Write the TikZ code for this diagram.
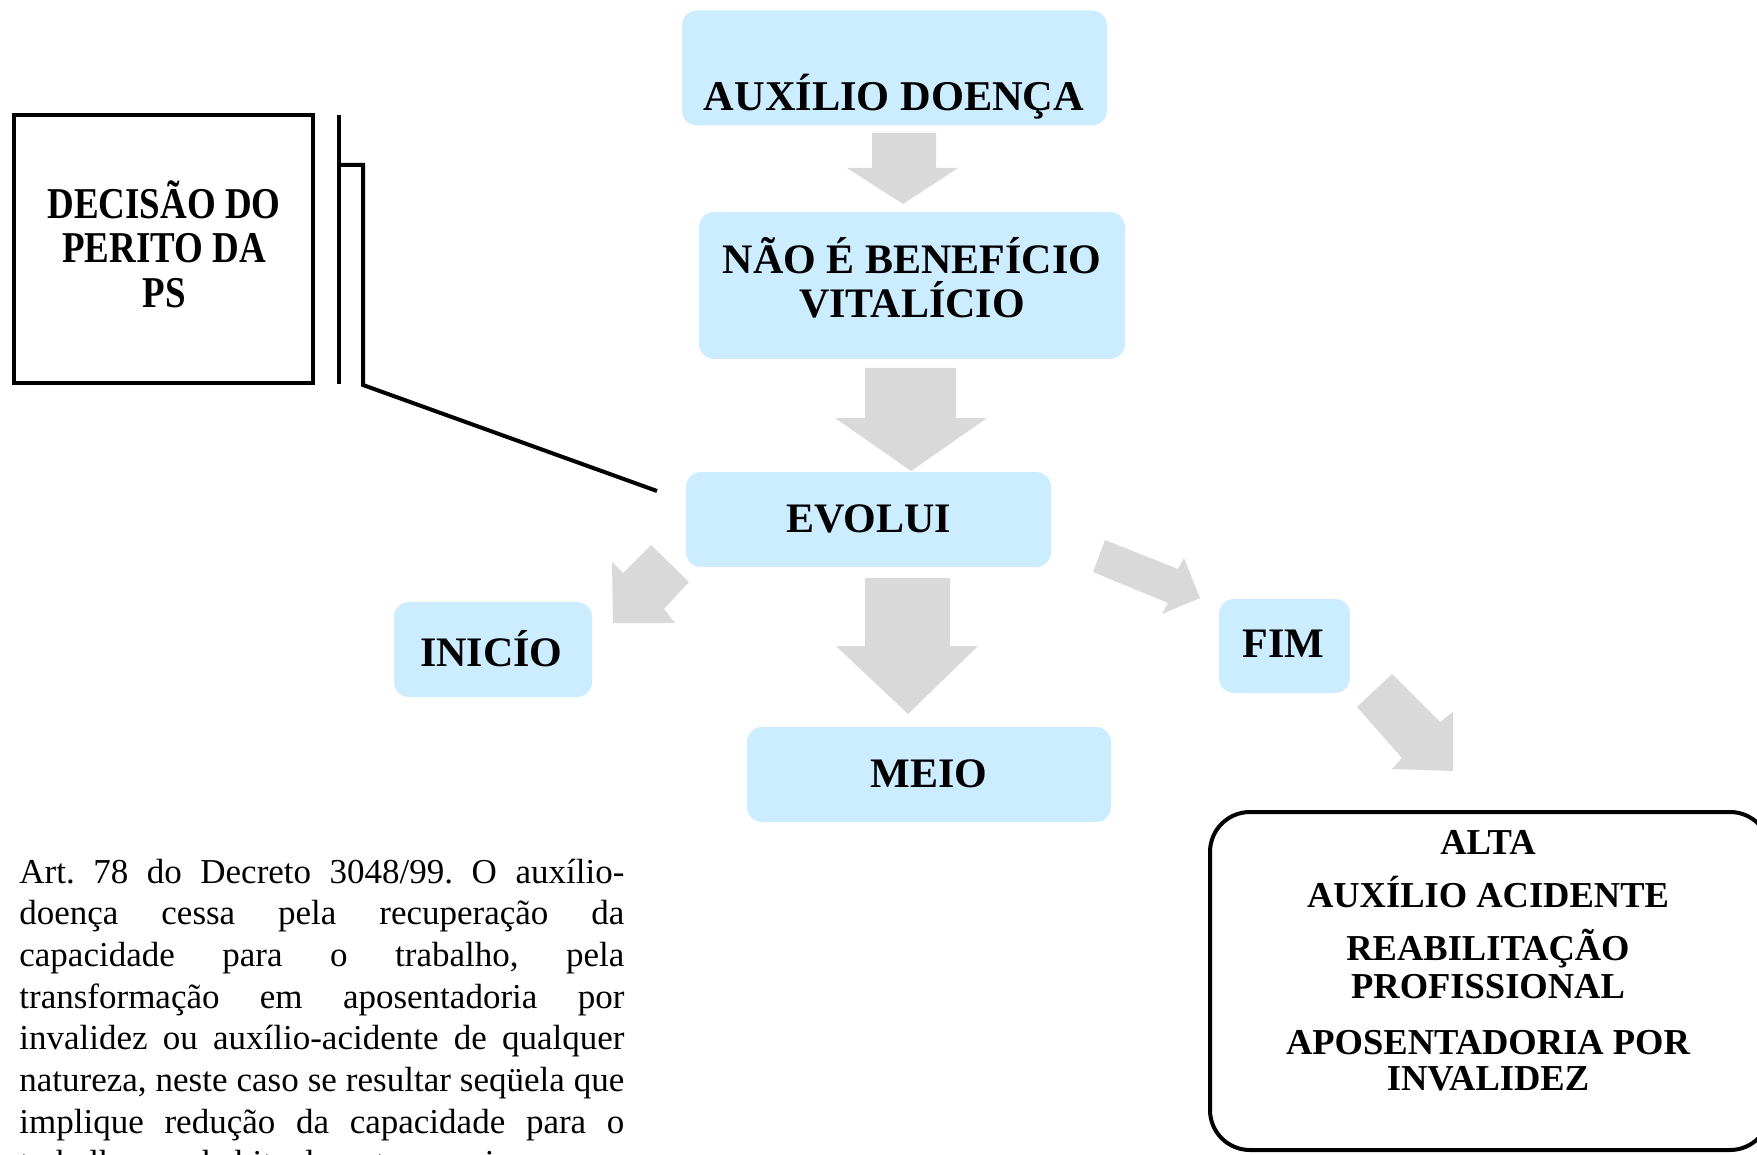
\documentclass[tikz,border=0pt]{standalone}
\usepackage{fontspec}
\setmainfont{Liberation Serif}
\newfontfamily\condserif[FakeStretch=0.84]{Liberation Serif}
\definecolor{boxblue}{HTML}{CCECFF}
\definecolor{arrowgrey}{HTML}{D9D9D9}
\tikzset{
  bluebox/.style={fill=boxblue, draw=none, rounded corners=7.5pt, inner sep=0pt},
  lbl/.style={anchor=base, inner sep=0pt, font=\bfseries\fontsize{21}{25}\selectfont},
  reslbl/.style={anchor=base, inner sep=0pt, font=\bfseries\fontsize{18.25}{22}\selectfont},
  declbl/.style={anchor=base, inner sep=0pt, font=\condserif\bfseries\fontsize{22}{26}\selectfont},
  paraline/.style={anchor=base west, inner sep=0pt, font=\fontsize{17.5}{21}\selectfont\frenchspacing},
  blockarrow/.style={fill=arrowgrey, draw=none},
  blackline/.style={line width=2pt, draw=black}
}
\begin{document}
\frenchspacing
\begin{tikzpicture}[x=0.5pt,y=-0.5pt]
\useasboundingbox (0,0) rectangle (1757,1155);

% blue boxes
\node[bluebox, minimum width=212.5pt, minimum height=57.5pt] (aux) at (894.5,68) {};
\node[bluebox, minimum width=213pt, minimum height=73.5pt] (nao) at (912,285.5) {};
\node[bluebox, minimum width=182.5pt, minimum height=47.5pt] (evo) at (868.5,519.5) {};
\node[bluebox, minimum width=99pt, minimum height=47.5pt] (ini) at (493,649.5) {};
\node[bluebox, minimum width=182pt, minimum height=47.5pt] (meio) at (929,774.5) {};
\node[bluebox, minimum width=65.5pt, minimum height=47pt] (fim) at (1284.5,646) {};

% labels
\node[lbl, font=\bfseries\fontsize{21.2}{25}\selectfont] (auxt) at (894,111) {AUXÍLIO DOENÇA};
\node[lbl] (naota) at (912,274) {NÃO É BENEFÍCIO};
\node[lbl] (naotb) at (912,318) {VITALÍCIO};
\node[lbl] (evot) at (868.5,532) {EVOLUI};
\node[lbl] (init) at (491.5,666) {INICÍO};
\node[lbl] (meiot) at (929,787) {MEIO};
\node[lbl] (fimt) at (1283.5,657) {FIM};

% block arrows
\fill[blockarrow] (872,133) -- (936,133) -- (936,168) -- (958,168) -- (903,204) -- (847,168) -- (872,168) -- cycle;
\fill[blockarrow] (865,368) -- (956,368) -- (956,418) -- (987,418) -- (911,471) -- (835,418) -- (865,418) -- cycle;
\fill[blockarrow] (865,578) -- (950,578) -- (950,646) -- (978,646) -- (908,714) -- (836,646) -- (865,646) -- cycle;
\fill[blockarrow] (612,562) -- (623,573) -- (651,545) -- (689,582) -- (664,609) -- (675,623) -- (613,623) -- cycle;
\fill[blockarrow] (1105,540) -- (1178,569) -- (1184,558) -- (1200,598) -- (1162,614) -- (1168,603) -- (1093,572) -- cycle;
\fill[blockarrow] (1392,674) -- (1440,722) -- (1453,712) -- (1453,771) -- (1392,769) -- (1402,758) -- (1357,707) -- cycle;

% decision box and bracket
\node[draw, line width=2pt, minimum width=149.5pt, minimum height=134pt, inner sep=0pt] (dec) at (163.5,249) {};
\node[declbl] (deca) at (164,219) {DECISÃO DO};
\node[declbl] (decb) at (164,263) {PERITO DA};
\node[declbl] (decc) at (164,308) {PS};
\coordinate (bra) at (339,115);
\coordinate (brb) at (339,384);
\coordinate (brc) at (339,165);
\coordinate (brd) at (363,165);
\coordinate (bre) at (363,385);
\coordinate (brf) at (657,491);
\draw[blackline] (bra) -- (brb);
\draw[blackline] (brc) -- (brd) -- (bre) -- (brf);

% result box
\node[draw, line width=2pt, rounded corners=20pt, minimum width=280pt, minimum height=169pt, inner sep=0pt] (res) at (1490,981) {};
\node[reslbl] (r1) at (1488,854) {ALTA};
\node[reslbl] (r2) at (1488,907) {AUXÍLIO ACIDENTE};
\node[reslbl] (r3) at (1488,960) {REABILITAÇÃO};
\node[reslbl] (r4) at (1488,998) {PROFISSIONAL};
\node[reslbl] (r5) at (1488,1054) {APOSENTADORIA POR};
\node[reslbl] (r6) at (1488,1090) {INVALIDEZ};

% paragraph
\node[paraline] (p1) at (19,883) {\makebox[302.5pt][s]{Art. 78 do Decreto 3048/99. O auxílio-}};
\node[paraline] (p2) at (19,924.7) {\makebox[302.5pt][s]{doença cessa pela recuperação da}};
\node[paraline] (p3) at (19,966.4) {\makebox[302.5pt][s]{capacidade para o trabalho, pela}};
\node[paraline] (p4) at (19,1008.1) {\makebox[302.5pt][s]{transformação em aposentadoria por}};
\node[paraline] (p5) at (19,1049.8) {\makebox[302.5pt][s]{invalidez ou auxílio-acidente de qualquer}};
\node[paraline] (p6) at (19,1091.5) {\makebox[302.5pt][s]{natureza, neste caso se resultar seqüela que}};
\node[paraline] (p7) at (19,1133.2) {\makebox[302.5pt][s]{implique redução da capacidade para o}};
\node[paraline] (p8) at (19,1174.9) {trabalho que habitualmente exercia.};
\end{tikzpicture}
\end{document}
